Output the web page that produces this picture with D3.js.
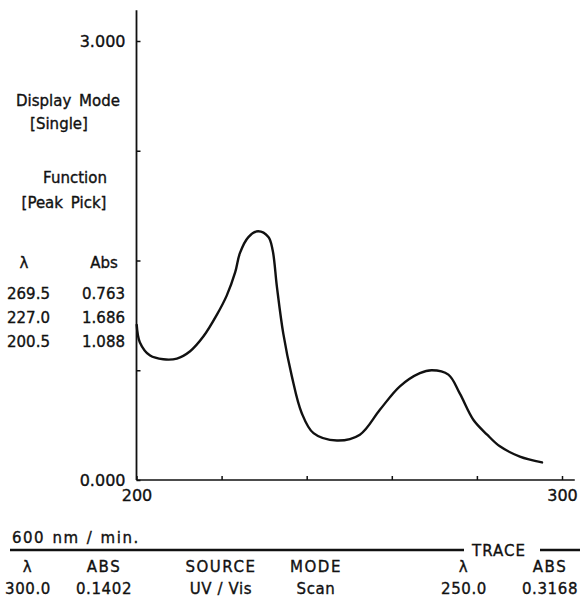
<!DOCTYPE html>
<html>
<head>
<meta charset="utf-8">
<script src="https://cdn.jsdelivr.net/npm/d3@7"></script>
<style>
  body { margin: 0; background: #fff; }
  svg { display: block; }
  text { font-family: "DejaVu Sans", sans-serif; fill: #111; stroke: #111; stroke-width: 0.35px; }
</style>
</head>
<body>
<div class="canvas"></div>
<script>

// spectrum trace (nm, absorbance)
var wavelength = [200.05, 200.8, 203.2, 206.3, 209.5, 212.6, 215.7, 218.9, 221.2, 223.2, 224.3,
  226.3, 228.6, 231.0, 232.0, 233.0, 234.5, 236.5, 238.8, 241.6, 247.1, 252.5,
  257.2, 261.9, 266.6, 269.4, 273.3, 276.0, 279.2, 282.4, 285.4, 290.1, 295.3];
var absorbance = [1.06, 0.94, 0.85, 0.825, 0.83, 0.88, 0.98, 1.13, 1.26, 1.42, 1.55,
  1.66, 1.70, 1.66, 1.57, 1.32, 1.00, 0.71, 0.46, 0.32, 0.27, 0.31,
  0.48, 0.64, 0.73, 0.75, 0.72, 0.59, 0.41, 0.31, 0.23, 0.16, 0.12];

var xTicks = [200, 220, 240, 260, 280, 300];
var yTicks = [0, 0.75, 1.5, 2.25, 3.0];

var peakLambda = ["269.5", "227.0", "200.5"];
var peakAbs = ["0.763", "1.686", "1.088"];

var footHead = ["λ", "ABS", "SOURCE", "MODE", "λ", "ABS"];
var footVal = ["300.0", "0.1402", "UV / Vis", "Scan", "250.0", "0.3168"];
var footX = [28, 104, 221, 316, 464, 550];

var W = 580, H = 605;

var svg = d3.select(".canvas").append("svg")
  .attr("width", W)
  .attr("height", H);

var x = d3.scaleLinear().domain([200, 300]).range([136.5, 562]);
var y = d3.scaleLinear().domain([0, 3]).range([480, 41]);

// axes, ticks pointing inward
var xAxis = d3.axisBottom(x)
  .tickValues(xTicks)
  .tickSizeInner(-4)
  .tickSizeOuter(0)
  .tickPadding(10)
  .tickFormat(function(d) { return (d == 200 || d == 300) ? d : ""; });

var yAxis = d3.axisLeft(y)
  .tickValues(yTicks)
  .tickSizeInner(-4)
  .tickSizeOuter(0)
  .tickPadding(11)
  .tickFormat(function(d) { return (d == 0 || d == 3) ? d.toFixed(3) : ""; });

var gx = svg.append("g")
  .attr("transform", "translate(0," + y(0) + ")")
  .call(xAxis);
var gy = svg.append("g")
  .attr("transform", "translate(" + x(200) + ",0)")
  .call(yAxis);

[gx, gy].forEach(function(g) {
  g.select(".domain").remove();
  g.selectAll(".tick line").attr("stroke", "#111").attr("stroke-width", 1.5);
  g.selectAll(".tick text")
    .attr("font-size", 16)
    .attr("font-family", "DejaVu Sans, sans-serif")
    .attr("fill", "#111");
});

// axis lines (x runs a bit past 300, y runs well above 3.000)
svg.append("line")
  .attr("x1", x(200)).attr("x2", x(303))
  .attr("y1", y(0)).attr("y2", y(0))
  .attr("stroke", "#111").attr("stroke-width", 1.6);
svg.append("line")
  .attr("x1", x(200)).attr("x2", x(200))
  .attr("y1", y(0)).attr("y2", y(3.21))
  .attr("stroke", "#111").attr("stroke-width", 1.8);

// trace
var pts = d3.zip(wavelength, absorbance);
var line = d3.line()
  .x(function(d) { return x(d[0]); })
  .y(function(d) { return y(d[1]); })
  .curve(d3.curveCatmullRom.alpha(0.5));

svg.append("path")
  .datum(pts)
  .attr("d", line)
  .attr("fill", "none")
  .attr("stroke", "#111")
  .attr("stroke-width", 2.4)
  .attr("stroke-linejoin", "round")
  .attr("stroke-linecap", "round");

// left panel
var left = svg.append("g").attr("font-size", 15);
var addText = function(g, tx, ty, s, anchor) {
  return g.append("text")
    .attr("x", tx).attr("y", ty)
    .attr("text-anchor", anchor || "middle")
    .text(s);
};

addText(left, 68, 106, "Display Mode").attr("word-spacing", 3);
addText(left, 59, 129, "[Single]");
addText(left, 75, 183, "Function");
addText(left, 64, 208, "[Peak Pick]").attr("word-spacing", 3);

var tbl = svg.append("g").attr("font-size", 15);
addText(tbl, 24, 268, "λ");
addText(tbl, 104, 268, "Abs");
peakLambda.forEach(function(s, i) {
  addText(tbl, 7, 299 + i * 24, s, "start");
  addText(tbl, 125, 299 + i * 24, peakAbs[i], "end");
});

// footer
var foot = svg.append("g").attr("font-size", 15).attr("letter-spacing", 1.5);
addText(foot, 12, 543, "600 nm / min.", "start").attr("word-spacing", 1);

svg.append("line")
  .attr("x1", 10).attr("x2", 464)
  .attr("y1", 550).attr("y2", 550)
  .attr("stroke", "#111").attr("stroke-width", 2.4);
svg.append("line")
  .attr("x1", 540).attr("x2", 580)
  .attr("y1", 550).attr("y2", 550)
  .attr("stroke", "#111").attr("stroke-width", 2.4);
addText(foot, 499, 556, "TRACE").attr("letter-spacing", 1);

footHead.forEach(function(s, i) {
  addText(foot, footX[i], 572, s);
  addText(foot, footX[i], 594, footVal[i]).attr("letter-spacing", 0.6);
});

</script>
</body>
</html>
